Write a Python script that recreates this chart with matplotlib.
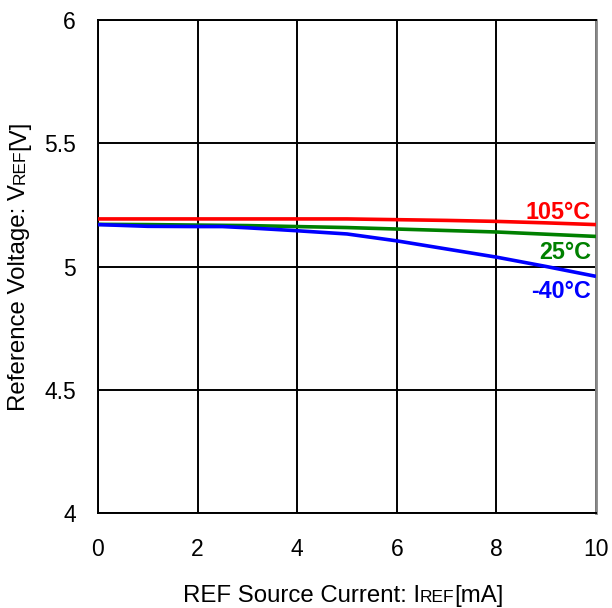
import numpy as np
import matplotlib
matplotlib.use('Agg')
from matplotlib import pyplot as plt

plt.rcParams['font.family'] = ['Liberation Sans', 'DejaVu Sans']

# source current [mA]
current = [0, 1, 2, 2.5, 3, 4, 5, 6, 7, 8, 9, 10]

# reference voltage [V] per temperature
v_105 = [5.193, 5.193, 5.193, 5.193, 5.193, 5.193, 5.193, 5.190, 5.187, 5.183, 5.177, 5.170]
v_25 = [5.171, 5.170, 5.168, 5.167, 5.166, 5.162, 5.158, 5.152, 5.146, 5.140, 5.131, 5.122]
v_m40 = [5.170, 5.163, 5.162, 5.162, 5.157, 5.145, 5.132, 5.104, 5.071, 5.038, 5.000, 4.960]

labels = ['105°C', '25°C', '-40°C']
colors = ['#ff0000', '#008000', '#0000ff']
label_y = [5.221, 5.055, 4.897]

xticks = [0, 2, 4, 6, 8, 10]
yticks = [4, 4.5, 5, 5.5, 6]
ytick_labels = ['4', '4.5', '5', '5.5', '6']

W, H = 612, 608
fig = plt.figure(figsize=(W/100, H/100), dpi=100)
ax = fig.add_axes([98/W, 1 - 513/H, 498/W, 493/H])

for v, c in zip([v_105, v_25, v_m40], colors):
	ax.plot(current, v, color=c, linewidth=2.6, solid_capstyle='butt', zorder=3)

for lab, c, y in zip(labels, colors, label_y):
	ax.text(9.9, y, lab, color=c, fontsize=16.8, fontweight='bold', ha='right', va='center', zorder=4)

ax.set_xlim(0, 10)
ax.set_ylim(4, 6)
ax.set_xticks(xticks)
ax.set_yticks(yticks)
ax.set_yticklabels(ytick_labels)
ax.tick_params(length=0, labelsize=16.5)
ax.tick_params(axis='y', pad=16)
ax.tick_params(axis='x', pad=18)
ax.grid(True, color='black', linewidth=1.4)
for s in ['left', 'bottom', 'top']:
	ax.spines[s].set_color('black')
	ax.spines[s].set_linewidth(1.4)
ax.spines['right'].set_color('#888888')
ax.spines['right'].set_linewidth(2)


# axis labels with small "REF" part, pieces placed one after another
def chain(pieces, x0, y0, rot):
	r = fig.canvas.get_renderer()
	pos = y0 if rot else x0
	for txt, size in pieces:
		if rot:
			t = fig.text(x0 / W, pos / H, txt, fontsize=size, rotation=90,
				rotation_mode='anchor', ha='left', va='baseline')
			pos += t.get_window_extent(r).height
		else:
			t = fig.text(pos / W, y0 / H, txt, fontsize=size, ha='left', va='baseline')
			pos += t.get_window_extent(r).width

xl = [('REF Source Current: I', 17.3), ('REF', 12.5), ('[mA]', 17.3)]
yl = [('Reference Voltage: V', 17.3), ('REF', 12.5), ('[V]', 17.3)]

chain(xl, 183, 6, False)
chain(yl, 25, 197, True)

plt.savefig('out.png', dpi=100)
